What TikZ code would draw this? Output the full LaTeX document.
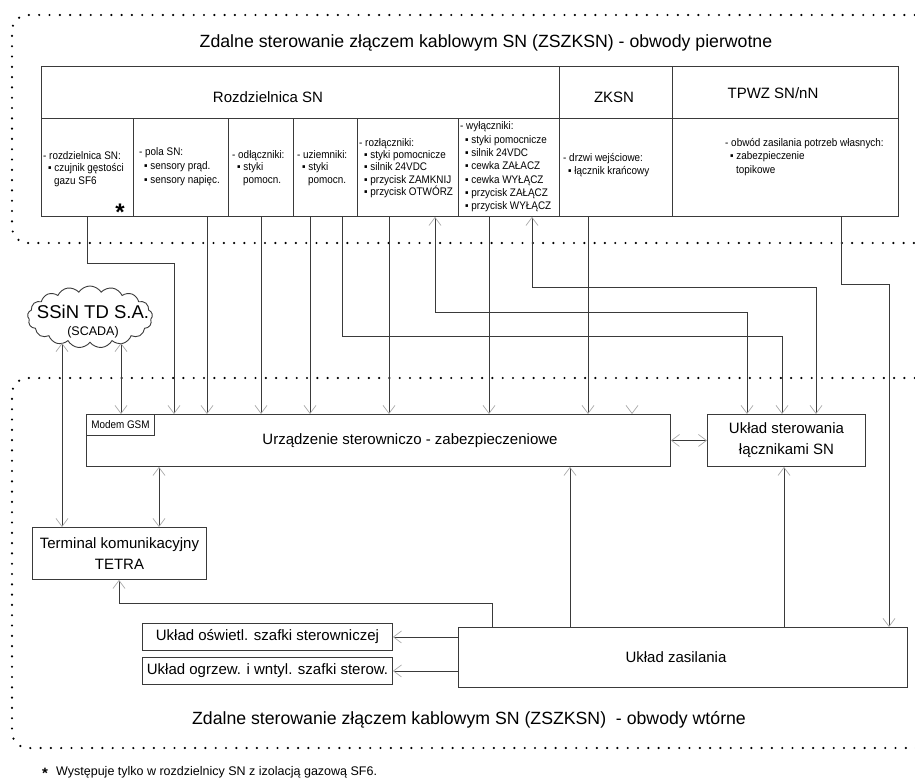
\documentclass[tikz,border=0pt]{standalone}
\usepackage{fontspec}
\setmainfont{Liberation Sans}
\newfontfamily\narrowfam{Liberation Sans}[FakeStretch=0.9]
\usetikzlibrary{arrows.meta,shapes.symbols}
\definecolor{linec}{HTML}{3A3A3A}
\definecolor{tipc}{HTML}{A8A8A8}
\begin{document}
\begin{tikzpicture}[x=1pt,y=-1pt,
  box/.style={draw=linec, line width=0.9pt, anchor=north west, inner sep=0pt},
  ln/.style={draw=linec, line width=0.8pt},
  >={Straight Barb[length=8pt,width=12pt,line width=0.7pt,color=tipc]},
  dotframe/.style={draw=black, line width=2.4pt, line cap=round, dash pattern=on 0pt off 10.3pt, rounded corners=16pt},
  small/.style={font=\narrowfam\fontsize{11}{12.3}\selectfont, align=left, anchor=west, inner sep=0pt},
  boxtext/.style={font=\fontsize{15}{21}\selectfont, align=center},
  title/.style={font=\fontsize{17.7}{20}\selectfont, inner sep=0pt}
]
\useasboundingbox (0,0) rectangle (915,781);

% dotted frames
\draw[dotframe] (925,15) -- (12,15) -- (12,243) -- (925,243);
\draw[dotframe] (925,378) -- (12,378) -- (12,748) -- (925,748);

% titles
\node[title] (title1) at (486,43) {Zdalne sterowanie złączem kablowym SN (ZSZKSN) - obwody pierwotne};
\node[title] (title2) at (469,720) {Zdalne sterowanie złączem kablowym SN (ZSZKSN)\ \ - obwody wtórne};

% table header
\node[box, minimum width=518pt, minimum height=52pt] (h1) at (41,66) {};
\node[box, minimum width=113pt, minimum height=52pt] (h2) at (559,66) {};
\node[box, minimum width=226pt, minimum height=52pt] (h3) at (672,66) {};
\node[font=\fontsize{15}{18}\selectfont] (h1t) at (268,97) {Rozdzielnica SN};
\node[font=\fontsize{15}{18}\selectfont] (h2t) at (614,97) {ZKSN};
\node[font=\fontsize{15}{18}\selectfont] (h3t) at (773,93) {TPWZ SN/nN};

% table cells
\node[box, minimum width=92pt, minimum height=98pt] (c1) at (41,118) {};
\node[box, minimum width=95pt, minimum height=98pt] (c2) at (133,118) {};
\node[box, minimum width=65pt, minimum height=98pt] (c3) at (228,118) {};
\node[box, minimum width=64pt, minimum height=98pt] (c4) at (293,118) {};
\node[box, minimum width=101pt, minimum height=98pt] (c5) at (357,118) {};
\node[box, minimum width=101pt, minimum height=98pt] (c6) at (458,118) {};
\node[box, minimum width=113pt, minimum height=98pt] (c7) at (559,118) {};
\node[box, minimum width=226pt, minimum height=98pt] (c8) at (672,118) {};

\node[small] (t1) at (43,169) {- rozdzielnica SN:\\\hspace*{5pt}▪ czujnik gęstości\\\hspace*{11pt}gazu SF6};
\node[font=\bfseries\fontsize{24}{24}\selectfont, inner sep=0pt] (star) at (120,210) {\smash{\raisebox{-0.45em}{*}}};
\node[small] (t2) at (139,167) {- pola SN:\\[1.7pt]\hspace*{5pt}▪ sensory prąd.\\[1.7pt]\hspace*{5pt}▪ sensory napięc.};
\node[small] (t3) at (232,168) {- odłączniki:\\\hspace*{5pt}▪ styki\\\hspace*{11pt}pomocn.};
\node[small] (t4) at (297,168) {- uziemniki:\\\hspace*{5pt}▪ styki\\\hspace*{11pt}pomocn.};
\node[small] (t5) at (359,168) {- rozłączniki:\\\hspace*{5pt}▪ styki pomocnicze\\\hspace*{5pt}▪ silnik 24VDC\\\hspace*{5pt}▪ przycisk ZAMKNIJ\\\hspace*{5pt}▪ przycisk OTWÓRZ};
\node[small, font=\narrowfam\fontsize{11}{13.3}\selectfont] (t6) at (460,167) {- wyłączniki:\\\hspace*{5pt}▪ styki pomocnicze\\\hspace*{5pt}▪ silnik 24VDC\\\hspace*{5pt}▪ cewka ZAŁACZ\\\hspace*{5pt}▪ cewka WYŁĄCZ\\\hspace*{5pt}▪ przycisk ZAŁĄCZ\\\hspace*{5pt}▪ przycisk WYŁĄCZ};
\node[small] (t7) at (563,165) {- drzwi wejściowe:\\\hspace*{5pt}▪ łącznik krańcowy};
\node[small, font=\narrowfam\fontsize{11}{13.8}\selectfont] (t8) at (725,157) {- obwód zasilania potrzeb własnych:\\\hspace*{5pt}▪ zabezpieczenie\\\hspace*{11pt}topikowe};

% cloud
\node[cloud, draw=linec, line width=0.9pt, cloud puffs=17, cloud puff arc=115, aspect=2.1, minimum width=125pt, minimum height=62pt, inner sep=0pt] (scada) at (90,317) {};
\node[font=\fontsize{18.5}{20}\selectfont, inner sep=0pt] (scadat1) at (93,312) {SSiN TD S.A.};
\node[font=\fontsize{12.5}{14}\selectfont, inner sep=0pt] (scadat2) at (93,332) {(SCADA)};

% lower boxes
\node[box, minimum width=584pt, minimum height=52pt] (dev) at (86,414) {};
\node[box, minimum width=68pt, minimum height=21pt, font=\narrowfam\fontsize{11}{12}\selectfont] (modem) at (86,414) {Modem GSM};
\node[font=\fontsize{15}{18}\selectfont] (devt) at (410,441) {Urządzenie sterowniczo - zabezpieczeniowe};
\node[box, boxtext, minimum width=158pt, minimum height=52pt] (usl) at (707,414) {Układ sterowania\\łącznikami SN};
\node[box, boxtext, minimum width=174pt, minimum height=52pt] (term) at (32,527) {Terminal komunikacyjny\\TETRA};
\node[box, minimum width=449pt, minimum height=60pt] (zas) at (458,627) {};
\node[font=\fontsize{15}{18}\selectfont] (zast) at (676,657) {Układ zasilania};
\node[box, boxtext, minimum width=250pt, minimum height=27pt] (osw) at (142,623) {Układ oświetl. szafki sterowniczej};
\node[box, boxtext, minimum width=250pt, minimum height=27pt] (ogrz) at (142,657) {Układ ogrzew. i wntyl. szafki sterow.};

% connectors from the table
\draw[ln,->] (87,0 |- c1.south) |- (174,263) -- (174,0 |- dev.north);
\draw[ln,->] (207,0 |- c2.south) -- (207,0 |- dev.north);
\draw[ln,->] (261,0 |- c3.south) -- (261,0 |- dev.north);
\draw[ln,->] (310,0 |- c4.south) -- (310,0 |- dev.north);
\draw[ln,->] (342,0 |- c4.south) |- (782,336) -- (782,0 |- usl.north);
\draw[ln,->] (389,0 |- c5.south) -- (389,0 |- dev.north);
\draw[ln,<->] (435,0 |- c5.south) |- (747,312) -- (747,0 |- usl.north);
\draw[ln,->] (489,0 |- c6.south) -- (489,0 |- dev.north);
\draw[ln,<->] (532,0 |- c6.south) |- (816,287) -- (816,0 |- usl.north);
\draw[ln,->] (588,0 |- c7.south) -- (588,0 |- dev.north);
\coordinate (lone) at (632,404);
\draw[draw=white, line width=0.8pt, ->] (lone) -- (632,0 |- dev.north);
\draw[ln,->] (841,0 |- c8.south) |- (889,284) -- (889,0 |- zas.north);

% SCADA / terminal
\draw[ln,<->] (62,0 |- scada.south) -- (62,0 |- term.north);
\draw[ln,<->] (121,0 |- scada.south) -- (121,0 |- dev.north);
\draw[ln,<->] (159,0 |- dev.south) -- (159,0 |- term.north);
\draw[ln,->] (492,0 |- zas.north) |- (119,603) -- (119,0 |- term.south);

% power supply
\draw[ln,->] (570,0 |- zas.north) -- (570,0 |- dev.south);
\draw[ln,->] (784,0 |- zas.north) -- (784,0 |- usl.south);
\draw[ln,<->] (dev.east) -- (usl.west);
\draw[ln,->] (zas.west |- osw.east) -- (osw.east);
\draw[ln,->] (zas.west |- ogrz.east) -- (ogrz.east);

% footnote
\node[font=\bfseries\fontsize{15}{15}\selectfont, anchor=base, inner sep=0pt] (fstar) at (45,778) {*};
\node[font=\fontsize{12.5}{14}\selectfont, anchor=west, inner sep=0pt] (fn) at (56,772) {Występuje tylko w rozdzielnicy SN z izolacją gazową SF6.};
\end{tikzpicture}
\end{document}
